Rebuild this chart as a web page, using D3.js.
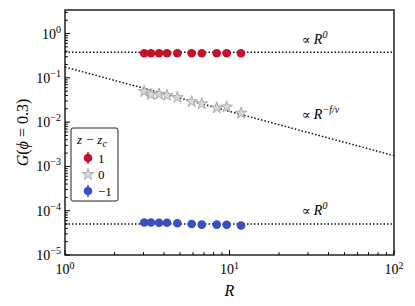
<!DOCTYPE html>
<html>
<head>
<meta charset="utf-8">
<script src="https://cdn.jsdelivr.net/npm/d3@7"></script>
<style>
  body { margin: 0; background: #fff; }
</style>
</head>
<body>
<div id="chart"></div>
<script>
// system sizes R (shared by all three series)
const sizesR = [3.03, 3.33, 3.73, 4.17, 4.82, 5.89, 6.78, 8.36, 9.61, 11.75];
const gPlus = [0.36, 0.36, 0.36, 0.36, 0.36, 0.36, 0.36, 0.36, 0.36, 0.36];
const gZero = [0.049, 0.042, 0.043, 0.040, 0.036, 0.029, 0.026, 0.021, 0.022, 0.016];
const gMinus = [5.4e-5, 5.4e-5, 5.35e-5, 5.35e-5, 5.2e-5, 5.0e-5, 4.85e-5, 4.85e-5, 4.8e-5, 4.65e-5];
const legendLabels = ["1", "0", "\u22121"];
const plateauHigh = 0.38, plateauLow = 5.0e-5;
const slopeCoef = 0.175, slopeExp = -1.0;
const xTicks = [1, 10, 100];
const yTicks = [1e-5, 1e-4, 1e-3, 1e-2, 1e-1, 1];

const W = 415, H = 306;
const margin = { top: 10, right: 21, bottom: 51, left: 65 };
const width = W - margin.left - margin.right;
const height = H - margin.top - margin.bottom;
const serif = "'Liberation Serif', 'Times New Roman', 'DejaVu Serif', serif";

const svg = d3.select("#chart").append("svg")
  .attr("width", W).attr("height", H)
  .attr("font-family", serif);
const g = svg.append("g")
  .attr("transform", "translate(" + margin.left + "," + margin.top + ")");

const x = d3.scaleLog().domain([1, 100]).range([0, width]);
const y = d3.scaleLog().domain([1e-5, 3.4]).range([height, 0]);

// reference lines
const line = d3.line().x(d => x(d[0])).y(d => y(d[1]));
const refs = [
  [[1, plateauHigh], [100, plateauHigh]],
  [[1, slopeCoef], [100, slopeCoef * Math.pow(100, slopeExp)]],
  [[1, plateauLow], [100, plateauLow]]
];
g.selectAll(".ref").data(refs).enter().append("path")
  .attr("class", "ref")
  .attr("d", line)
  .attr("fill", "none")
  .attr("stroke", "#111")
  .attr("stroke-width", 1.5)
  .attr("stroke-dasharray", "1.5,2");

const red = "#c4102b", blue = "#3a4ec6";
const star = d3.symbol().type(d3.symbolStar).size(42);

function circles(vals, color) {
  g.append("g").selectAll("circle")
    .data(sizesR.map((r, i) => [r, vals[i]]))
    .enter().append("circle")
    .attr("cx", d => x(d[0]))
    .attr("cy", d => y(d[1]))
    .attr("r", 4.3)
    .attr("fill", color);
}
circles(gPlus, red);
circles(gMinus, blue);

g.append("g").selectAll("path")
  .data(sizesR.map((r, i) => [r, gZero[i]]))
  .enter().append("path")
  .attr("d", star)
  .attr("transform", d => "translate(" + x(d[0]) + "," + y(d[1]) + ")")
  .attr("fill", "#d8d8d8")
  .attr("stroke", "#9a9a9a")
  .attr("stroke-width", 0.8);

// axes frame
g.append("rect").attr("width", width).attr("height", height)
  .attr("fill", "none").attr("stroke", "#000").attr("stroke-width", 1.3);

// minor tick values
function minors(lo, hi) {
  const out = [];
  for (let e = lo; e < hi; e++)
    for (let k = 2; k <= 9; k++) out.push(k * Math.pow(10, e));
  return out;
}

const xAxis = g.append("g").attr("transform", "translate(0," + height + ")");
xAxis.selectAll(".maj").data(xTicks).enter().append("line")
  .attr("x1", d => x(d)).attr("x2", d => x(d))
  .attr("y1", 0).attr("y2", -5).attr("stroke", "#000");
xAxis.selectAll(".min").data(minors(0, 2)).enter().append("line")
  .attr("x1", d => x(d)).attr("x2", d => x(d))
  .attr("y1", 0).attr("y2", -2.8).attr("stroke", "#000");
const xl = xAxis.selectAll(".lab").data(xTicks).enter().append("text")
  .attr("x", d => x(d)).attr("y", 19)
  .attr("text-anchor", "middle").attr("font-size", 14);
xl.append("tspan").text("10");
xl.append("tspan").attr("dy", -5).attr("font-size", 10).text(d => Math.round(Math.log10(d)));

const yAxis = g.append("g");
yAxis.selectAll(".maj").data(yTicks).enter().append("line")
  .attr("y1", d => y(d)).attr("y2", d => y(d))
  .attr("x1", 0).attr("x2", 5).attr("stroke", "#000");
yAxis.selectAll(".min").data(minors(-5, 1).filter(v => v < 3.4)).enter().append("line")
  .attr("y1", d => y(d)).attr("y2", d => y(d))
  .attr("x1", 0).attr("x2", 2.8).attr("stroke", "#000");
const yl = yAxis.selectAll(".lab").data(yTicks).enter().append("text")
  .attr("x", -4).attr("y", d => y(d) + 5)
  .attr("text-anchor", "end").attr("font-size", 14);
yl.append("tspan").text("10");
yl.append("tspan").attr("dy", -6).attr("font-size", 10)
  .text(d => { const e = Math.round(Math.log10(d)); return e < 0 ? "\u2212" + (-e) : e; });

// axis titles
svg.append("text")
  .attr("x", margin.left + x(10)).attr("y", 296)
  .attr("text-anchor", "middle").attr("font-size", 16).attr("font-style", "italic")
  .text("R");
const yt = svg.append("text")
  .attr("transform", "translate(28," + (margin.top + height / 2) + ") rotate(-90)")
  .attr("text-anchor", "middle").attr("font-size", 16);
yt.append("tspan").attr("font-style", "italic").text("G");
yt.append("tspan").text("(");
yt.append("tspan").attr("font-style", "italic").text("\u03d5");
yt.append("tspan").text(" = 0.3)");

// annotations
function prop(xv, yv, sup) {
  const t = g.append("text").attr("x", x(xv)).attr("y", y(yv)).attr("font-size", 13);
  t.append("tspan").text("\u221d ");
  t.append("tspan").attr("font-style", "italic").attr("font-size", 14).text("R");
  t.append("tspan").attr("dy", -6).attr("font-size", 10).attr("font-style", "italic").text(sup);
  return t;
}
prop(27.5, 0.57, "0");
prop(27.5, 0.0115, "\u2212f/\u03bd");
prop(27.5, 8.0e-5, "0");

// legend
const lg = g.append("g").attr("transform", "translate(6,118)");
lg.append("rect").attr("width", 47).attr("height", 73).attr("rx", 2)
  .attr("fill", "#fff").attr("stroke", "#222").attr("stroke-width", 1);
const lt = lg.append("text").attr("x", 6).attr("y", 16).attr("font-size", 13).attr("font-style", "italic");
lt.append("tspan").text("z \u2212 z");
lt.append("tspan").attr("dy", 3).attr("font-size", 10).text("c");
const rows = [0, 1, 2];
rows.forEach(i => {
  const cy = 30 + i * 16.5;
  if (i === 1) {
    lg.append("path").attr("d", star).attr("transform", "translate(17," + cy + ")")
      .attr("fill", "#d8d8d8").attr("stroke", "#9a9a9a").attr("stroke-width", 0.8);
  } else {
    const c = i === 0 ? red : blue;
    lg.append("line").attr("x1", 17).attr("x2", 17).attr("y1", cy - 6).attr("y2", cy + 6)
      .attr("stroke", c).attr("stroke-width", 1.5);
    lg.append("circle").attr("cx", 17).attr("cy", cy).attr("r", 4.3).attr("fill", c);
  }
  lg.append("text").attr("x", 27).attr("y", cy + 4.5).attr("font-size", 13).text(legendLabels[i]);
});
</script>
</body>
</html>
